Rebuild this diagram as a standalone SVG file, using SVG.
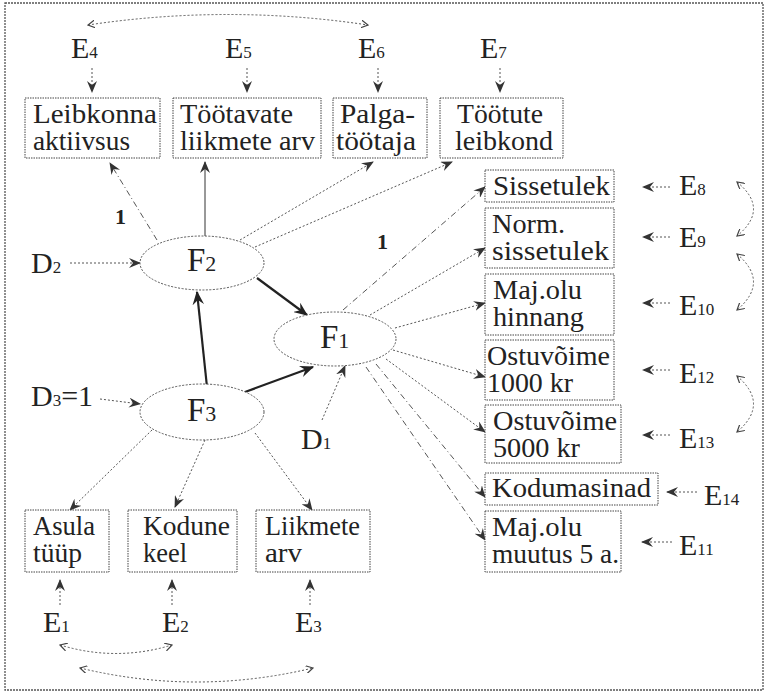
<svg xmlns="http://www.w3.org/2000/svg" width="767" height="694" viewBox="0 0 767 694">
<defs>
<marker id="ah" viewBox="0 0 12 10" refX="11" refY="5" markerWidth="12" markerHeight="10" markerUnits="userSpaceOnUse" orient="auto">
<path d="M0,0 L12,5 L0,10 L4,5 z" fill="#333"/>
</marker>
<marker id="ahb" viewBox="0 0 12 10" refX="11" refY="5" markerWidth="14" markerHeight="12" markerUnits="userSpaceOnUse" orient="auto">
<path d="M0,0 L12,5 L0,10 L4,5 z" fill="#222"/>
</marker>
<marker id="oh" viewBox="0 0 8 8" refX="7" refY="4" markerWidth="8" markerHeight="8" markerUnits="userSpaceOnUse" orient="auto">
<path d="M0,0 L7,4 L0,8" fill="none" stroke="#444" stroke-width="1.2"/>
</marker>
<marker id="ohs" viewBox="0 0 8 8" refX="1" refY="4" markerWidth="8" markerHeight="8" markerUnits="userSpaceOnUse" orient="auto">
<path d="M8,0 L1,4 L8,8" fill="none" stroke="#444" stroke-width="1.2"/>
</marker>
</defs>
<style>
text{font-family:"Liberation Serif","Times New Roman",serif;fill:#222}
.bx{font-size:28px}
.el{font-size:30px}
.fl{font-size:33px}
.sub{font-size:17px}
.fsub{font-size:22px}
.one{font-size:22px;font-weight:bold}
rect.n{fill:#fff;stroke:#444;stroke-width:1;stroke-dasharray:1.5,1}
ellipse{fill:#fff;stroke:#555;stroke-width:1;stroke-dasharray:2,1.5}
.c{fill:none;stroke:#555;stroke-width:1;stroke-dasharray:2,2}
.cd{fill:none;stroke:#555;stroke-width:1;stroke-dasharray:6,3,1,3}
.s{fill:none;stroke:#333;stroke-width:1}
.b{fill:none;stroke:#222;stroke-width:2.2}
</style>
<rect x="5" y="3" width="758" height="687" fill="#fff" stroke="#555" stroke-width="1.3" stroke-dasharray="2,1"/>

<g id="connectors">
<path class="c" marker-end="url(#ah)" d="M92,68 L92,92"/>
<path class="c" marker-end="url(#ah)" d="M247,68 L247,92"/>
<path class="c" marker-end="url(#ah)" d="M378,68 L378,92"/>
<path class="c" marker-end="url(#ah)" d="M500,68 L500,92"/>
<path class="c" marker-start="url(#ohs)" marker-end="url(#oh)" d="M88,25 Q228,4 368,25"/>
<path class="cd" marker-end="url(#ah)" d="M157,240 L110,163"/>
<path class="s" marker-end="url(#ah)" d="M205,236 L205,162"/>
<path class="c" marker-end="url(#ah)" d="M240,240 L373,162"/>
<path class="c" marker-end="url(#ah)" d="M255,247 L452,162"/>
<path class="c" marker-end="url(#ah)" d="M70,263 L140,263"/>
<path class="c" marker-end="url(#ah)" d="M100,399 L140,404"/>
<path class="c" marker-end="url(#ah)" d="M322,420 L345,366"/>
<path class="b" marker-end="url(#ahb)" d="M257,278 L307,315"/>
<path class="b" marker-end="url(#ahb)" d="M207,387 L197,292"/>
<path class="b" marker-end="url(#ahb)" d="M245,392 L313,367"/>
<path class="cd" marker-end="url(#ah)" d="M343,310 L485,187"/>
<path class="c" marker-end="url(#ah)" d="M370,315 L485,248"/>
<path class="c" marker-end="url(#ah)" d="M395,328 L485,303"/>
<path class="c" marker-end="url(#ah)" d="M393,350 L485,377"/>
<path class="c" marker-end="url(#ah)" d="M386,359 L485,432"/>
<path class="cd" marker-end="url(#ah)" d="M376,364 L485,497"/>
<path class="cd" marker-end="url(#ah)" d="M366,367 L485,540"/>
<path class="c" marker-end="url(#ah)" d="M670,187 L643,187"/>
<path class="c" marker-end="url(#ah)" d="M670,237 L643,237"/>
<path class="c" marker-end="url(#ah)" d="M670,303 L643,303"/>
<path class="c" marker-end="url(#ah)" d="M670,370 L643,370"/>
<path class="c" marker-end="url(#ah)" d="M670,435 L643,435"/>
<path class="c" marker-end="url(#ah)" d="M697,492 L667,492"/>
<path class="c" marker-end="url(#ah)" d="M672,542 L642,542"/>
<path class="c" marker-start="url(#ohs)" marker-end="url(#oh)" d="M737,182 Q770,209 737,236"/>
<path class="c" marker-start="url(#ohs)" marker-end="url(#oh)" d="M737,254 Q770,282 737,310"/>
<path class="c" marker-start="url(#ohs)" marker-end="url(#oh)" d="M737,376 Q770,404 737,432"/>
<path class="c" marker-end="url(#ah)" d="M152,430 L70,510"/>
<path class="c" marker-end="url(#ah)" d="M205,440 L175,507"/>
<path class="c" marker-end="url(#ah)" d="M255,433 L312,510"/>
<path class="c" marker-end="url(#ah)" d="M60,605 L60,580"/>
<path class="c" marker-end="url(#ah)" d="M172,605 L172,580"/>
<path class="c" marker-end="url(#ah)" d="M310,605 L310,580"/>
<path class="c" marker-start="url(#ohs)" marker-end="url(#oh)" d="M60,645 Q116,662 172,645"/>
<path class="c" marker-start="url(#ohs)" marker-end="url(#oh)" d="M80,668 Q196,696 313,668"/>
<text class="one" x="115" y="224">1</text>
<text class="one" x="377" y="249">1</text>
</g>

<g id="E4"><text class="el" x="71" y="58">E<tspan class="sub">4</tspan></text></g>
<g id="E5"><text class="el" x="225" y="58">E<tspan class="sub">5</tspan></text></g>
<g id="E6"><text class="el" x="358" y="58">E<tspan class="sub">6</tspan></text></g>
<g id="E7"><text class="el" x="480" y="58">E<tspan class="sub">7</tspan></text></g>

<g id="leibkonna"><rect class="n" x="25" y="98" width="135" height="60"/><text class="bx" x="33" y="123" textLength="124" lengthAdjust="spacingAndGlyphs">Leibkonna</text><text class="bx" x="33" y="150" textLength="97" lengthAdjust="spacingAndGlyphs">aktiivsus</text></g>
<g id="tootavate"><rect class="n" x="173" y="98" width="148" height="60"/><text class="bx" x="180" y="123" textLength="113" lengthAdjust="spacingAndGlyphs">Töötavate</text><text class="bx" x="180" y="150" textLength="135" lengthAdjust="spacingAndGlyphs">liikmete arv</text></g>
<g id="palga"><rect class="n" x="333" y="98" width="94" height="60"/><text class="bx" x="340" y="123" textLength="75" lengthAdjust="spacingAndGlyphs">Palga-</text><text class="bx" x="336" y="150" textLength="80" lengthAdjust="spacingAndGlyphs">töötaja</text></g>
<g id="tootute"><rect class="n" x="440" y="98" width="123" height="60"/><text class="bx" x="457" y="123" textLength="86" lengthAdjust="spacingAndGlyphs">Töötute</text><text class="bx" x="455" y="150" textLength="98" lengthAdjust="spacingAndGlyphs">leibkond</text></g>

<g id="F2"><ellipse cx="202" cy="263" rx="62" ry="27"/><text class="fl" x="187" y="271">F<tspan class="fsub">2</tspan></text></g>
<g id="F1"><ellipse cx="335" cy="339" rx="61" ry="27"/><text class="fl" x="320" y="348">F<tspan class="fsub">1</tspan></text></g>
<g id="F3"><ellipse cx="202" cy="412" rx="62" ry="28"/><text class="fl" x="187" y="421">F<tspan class="fsub">3</tspan></text></g>

<g id="D2"><text class="el" x="31" y="273">D<tspan class="sub">2</tspan></text></g>
<g id="D3"><text class="el" x="31" y="406">D<tspan class="sub">3</tspan>=1</text></g>
<g id="D1"><text class="el" x="301" y="449">D<tspan class="sub">1</tspan></text></g>

<g id="sissetulek"><rect class="n" x="485" y="170" width="129" height="32"/><text class="bx" x="493" y="195" textLength="117" lengthAdjust="spacingAndGlyphs">Sissetulek</text></g>
<g id="norm"><rect class="n" x="485" y="208" width="129" height="60"/><text class="bx" x="492" y="233" textLength="73" lengthAdjust="spacingAndGlyphs">Norm.</text><text class="bx" x="492" y="260" textLength="117" lengthAdjust="spacingAndGlyphs">sissetulek</text></g>
<g id="hinnang"><rect class="n" x="485" y="274" width="129" height="61"/><text class="bx" x="493" y="299" textLength="89" lengthAdjust="spacingAndGlyphs">Maj.olu</text><text class="bx" x="493" y="326" textLength="91" lengthAdjust="spacingAndGlyphs">hinnang</text></g>
<g id="ostu1000"><rect class="n" x="485" y="340" width="129" height="60"/><text class="bx" x="487" y="365" textLength="123" lengthAdjust="spacingAndGlyphs">Ostuvõime</text><text class="bx" x="487" y="392" textLength="86" lengthAdjust="spacingAndGlyphs">1000 kr</text></g>
<g id="ostu5000"><rect class="n" x="485" y="405" width="136" height="58"/><text class="bx" x="493" y="430" textLength="124" lengthAdjust="spacingAndGlyphs">Ostuvõime</text><text class="bx" x="493" y="457" textLength="87" lengthAdjust="spacingAndGlyphs">5000 kr</text></g>
<g id="kodumasinad"><rect class="n" x="485" y="473" width="173" height="32"/><text class="bx" x="492" y="497" textLength="159" lengthAdjust="spacingAndGlyphs">Kodumasinad</text></g>
<g id="muutus"><rect class="n" x="485" y="511" width="136" height="61"/><text class="bx" x="492" y="536" textLength="90" lengthAdjust="spacingAndGlyphs">Maj.olu</text><text class="bx" x="492" y="563" textLength="127" lengthAdjust="spacingAndGlyphs">muutus 5 a.</text></g>

<g id="E8"><text class="el" x="679" y="195">E<tspan class="sub">8</tspan></text></g>
<g id="E9"><text class="el" x="679" y="247">E<tspan class="sub">9</tspan></text></g>
<g id="E10"><text class="el" x="679" y="315">E<tspan class="sub">10</tspan></text></g>
<g id="E12"><text class="el" x="679" y="383">E<tspan class="sub">12</tspan></text></g>
<g id="E13"><text class="el" x="679" y="448">E<tspan class="sub">13</tspan></text></g>
<g id="E14"><text class="el" x="704" y="505">E<tspan class="sub">14</tspan></text></g>
<g id="E11"><text class="el" x="679" y="555">E<tspan class="sub">11</tspan></text></g>

<g id="asula"><rect class="n" x="25" y="510" width="84" height="62"/><text class="bx" x="33" y="535" textLength="62" lengthAdjust="spacingAndGlyphs">Asula</text><text class="bx" x="33" y="562" textLength="49" lengthAdjust="spacingAndGlyphs">tüüp</text></g>
<g id="kodune"><rect class="n" x="128" y="510" width="109" height="62"/><text class="bx" x="143" y="535" textLength="87" lengthAdjust="spacingAndGlyphs">Kodune</text><text class="bx" x="143" y="562" textLength="44" lengthAdjust="spacingAndGlyphs">keel</text></g>
<g id="liikmete"><rect class="n" x="256" y="510" width="114" height="62"/><text class="bx" x="265" y="535" textLength="95" lengthAdjust="spacingAndGlyphs">Liikmete</text><text class="bx" x="265" y="562" textLength="37" lengthAdjust="spacingAndGlyphs">arv</text></g>

<g id="E1"><text class="el" x="43" y="632">E<tspan class="sub">1</tspan></text></g>
<g id="E2"><text class="el" x="162" y="632">E<tspan class="sub">2</tspan></text></g>
<g id="E3"><text class="el" x="295" y="632">E<tspan class="sub">3</tspan></text></g>
</svg>
